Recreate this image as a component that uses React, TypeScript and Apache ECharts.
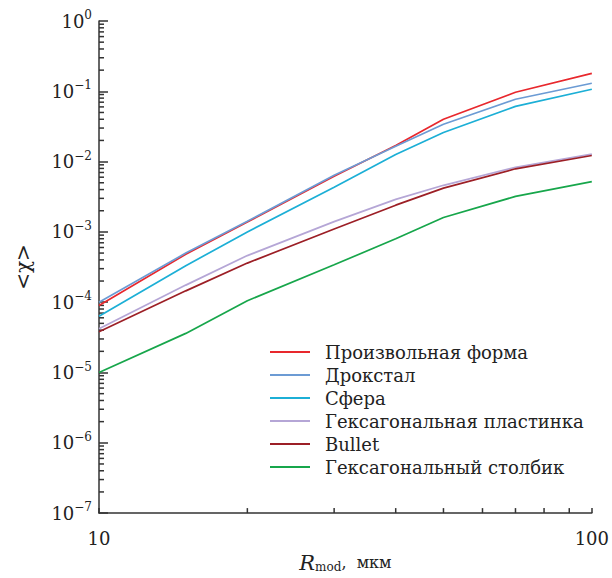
import React, { useEffect, useRef } from 'react';
import * as echarts from 'echarts';

const radii = [10, 15, 20, 30, 40, 50, 70, 100];
const seriesNames = [
  'Произвольная форма',
  'Дрокстал',
  'Сфера',
  'Гексагональная пластинка',
  'Bullet',
  'Гексагональный столбик',
];
const seriesColors = ['#e8282d', '#6c9bd4', '#1cafd6', '#b5a6d6', '#9c1f26', '#17a64b'];
const arbitrary = [9e-5, 4.8e-4, 1.38e-3, 6.2e-3, 1.7e-2, 4.0e-2, 9.7e-2, 1.8e-1];
const droxtal = [1.0e-4, 5.0e-4, 1.42e-3, 6.4e-3, 1.65e-2, 3.4e-2, 7.7e-2, 1.3e-1];
const sphere = [6.3e-5, 3.3e-4, 1.0e-3, 4.3e-3, 1.26e-2, 2.6e-2, 6.1e-2, 1.07e-1];
const plate = [4.2e-5, 1.75e-4, 4.6e-4, 1.4e-3, 2.9e-3, 4.6e-3, 8.3e-3, 1.28e-2];
const bullet = [3.8e-5, 1.45e-4, 3.6e-4, 1.1e-3, 2.4e-3, 4.2e-3, 7.9e-3, 1.22e-2];
const column = [1.0e-5, 3.6e-5, 1.05e-4, 3.4e-4, 8.0e-4, 1.6e-3, 3.2e-3, 5.2e-3];
const seriesValues = [arbitrary, droxtal, sphere, plate, bullet, column];

const yDecades = [-7, -6, -5, -4, -3, -2, -1];
const minorMultipliers = [2, 3, 4, 5, 6, 7, 8, 9];
const xMinorTicks = [20, 30, 40, 50, 60, 70, 80, 90];

const FONT = '"DejaVu Serif", "Liberation Serif", serif';

export default function App() {
  const ref = useRef<HTMLDivElement>(null);
  useEffect(() => {
    if (!ref.current) return;
    const chart = echarts.init(ref.current, null, { renderer: 'svg' });

    const yMinor: number[][] = [];
    yDecades.forEach((d) => {
      minorMultipliers.forEach((m) => yMinor.push([10, m * Math.pow(10, d)]));
    });
    const xMinor = xMinorTicks.map((v) => [v, 1e-7]);

    const lineSeries = seriesNames.map((name, i) => ({
      name,
      type: 'line',
      data: radii.map((r, j) => [r, seriesValues[i][j]]),
      showSymbol: false,
      symbol: 'none',
      lineStyle: { color: seriesColors[i], width: 1.7 },
      itemStyle: { color: seriesColors[i] },
      z: 3,
    }));

    chart.setOption({
      animation: false,
      backgroundColor: '#fff',
      grid: { left: 99, right: 18, top: 21, bottom: 62, containLabel: false },
      legend: {
        data: seriesNames,
        orient: 'vertical',
        left: 270,
        top: 343,
        padding: 0,
        itemWidth: 40,
        itemHeight: 2,
        itemGap: 5,
        icon: 'rect',
        textStyle: {
          fontFamily: FONT,
          fontSize: 18,
          color: '#222',
          padding: [0, 0, 0, 10],
          lineHeight: 18,
        },
      },
      xAxis: {
        type: 'log',
        logBase: 10,
        min: 10,
        max: 100,
        name: '{r|R}{s|mod}{t|,  мкм}',
        nameLocation: 'middle',
        nameGap: 37,
        nameTextStyle: {
          fontFamily: FONT,
          color: '#222',
          rich: {
            r: { fontFamily: FONT, fontStyle: 'italic', fontSize: 21, color: '#222' },
            s: { fontFamily: FONT, fontSize: 12, color: '#222', padding: [8, 0, 0, 0] },
            t: { fontFamily: FONT, fontSize: 16, color: '#222' },
          },
        },
        axisLine: { show: true, lineStyle: { color: '#333', width: 1.5 } },
        axisTick: { show: true, inside: true, length: 5, lineStyle: { color: '#333', width: 1.5 } },
        axisLabel: { fontFamily: FONT, fontSize: 18, color: '#222', margin: 16 },
        splitLine: { show: false },
      },
      yAxis: {
        type: 'log',
        logBase: 10,
        min: 1e-7,
        max: 1,
        name: '<χ>',
        nameLocation: 'middle',
        nameGap: 66,
        nameRotate: 90,
        nameTextStyle: { fontFamily: FONT, fontSize: 20, color: '#222' },
        axisLine: { show: true, lineStyle: { color: '#333', width: 1.5 } },
        axisTick: { show: true, inside: true, length: 9, lineStyle: { color: '#333', width: 1.5 } },
        axisLabel: {
          margin: 7,
          formatter: (v: number) => {
            const e = Math.round(Math.log10(v));
            return `{b|10}{s|${e === 0 ? '0' : '\u2212' + -e}}`;
          },
          rich: {
            b: { fontFamily: FONT, fontSize: 18, color: '#222' },
            s: { fontFamily: FONT, fontSize: 12, color: '#222', padding: [0, 0, 12, 0] },
          },
        },
        splitLine: { show: false },
      },
      series: [
        ...lineSeries,
        {
          type: 'custom',
          name: 'yMinor',
          data: yMinor,
          encode: { x: 0, y: 1 },
          silent: true,
          renderItem: (params: any, api: any) => {
            const p = api.coord([api.value(0), api.value(1)]);
            return {
              type: 'line',
              shape: { x1: p[0], y1: p[1], x2: p[0] + 5, y2: p[1] },
              style: { stroke: '#333', lineWidth: 1.5 },
            };
          },
        },
        {
          type: 'custom',
          name: 'xMinor',
          data: xMinor,
          encode: { x: 0, y: 1 },
          silent: true,
          renderItem: (params: any, api: any) => {
            const p = api.coord([api.value(0), api.value(1)]);
            return {
              type: 'line',
              shape: { x1: p[0], y1: p[1], x2: p[0], y2: p[1] - 5 },
              style: { stroke: '#333', lineWidth: 1.5 },
            };
          },
        },
      ],
    });
    return () => chart.dispose();
  }, []);
  return <div ref={ref} style={{ width: 612, height: 578, position: 'absolute', left: 0, top: 0 }} />;
}
